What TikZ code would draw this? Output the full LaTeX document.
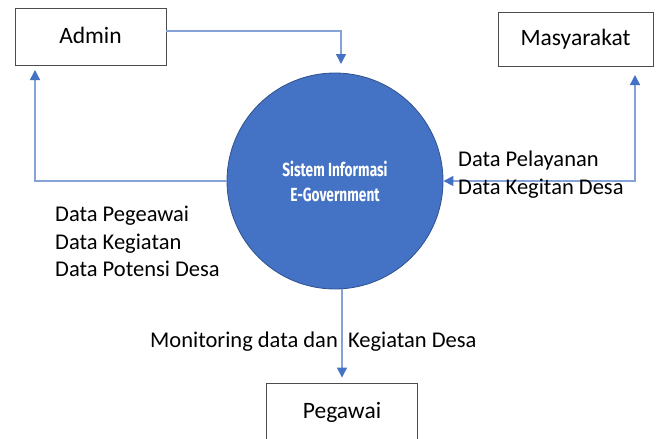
\documentclass[tikz,border=0pt]{standalone}
\usepackage{fontspec}
\setmainfont{Carlito}
\newfontfamily\procfont[FakeStretch=0.72]{Fira Sans}
\usetikzlibrary{arrows.meta}

\definecolor{procblue}{HTML}{4472C4}
\definecolor{procedge}{HTML}{2F528F}
\definecolor{flowline}{HTML}{86A3D8}

\begin{document}
\begin{tikzpicture}[x=1pt, y=-1pt, line join=miter,
    flowtip/.tip={Triangle[width=10pt, length=10pt, fill=procblue, color=procblue]},
    entity/.style={draw=black!70, line width=0.9pt, minimum width=151pt, minimum height=57pt,
      inner sep=0pt, font=\fontsize{23.5}{28}\selectfont},
    flow/.style={draw=flowline, line width=1.4pt, -flowtip},
    twoway/.style={draw=flowline, line width=1.4pt, flowtip-flowtip},
    flowlabel/.style={inner sep=0pt, anchor=west, align=left, font=\fontsize{22.5}{27.5}\selectfont}]

  % Page frame.
  \useasboundingbox (0,0) rectangle (659,439);

  % External entities and the process.
  \node[entity] (admin) at (90.5,36.5) {\raisebox{3pt}{Admin}};
  \node[entity, minimum width=155pt, minimum height=54pt] (masy) at (575.5,39) {\raisebox{1pt}{Masyarakat}};
  \node[entity, minimum height=58pt] (pegawai) at (342,412) {\raisebox{3pt}{Pegawai}};
  \node[circle, fill=procblue, draw=procedge, line width=0.8pt, minimum size=216pt,
    text=white, align=center, font=\procfont\bfseries\fontsize{19}{25}\selectfont] (sys) at (335,181)
    {Sistem Informasi\\E-Government};

  % Free ends of the flows.
  \coordinate (admin out) at ([yshift=5.5pt]admin.east);
  \coordinate (sys in) at (341,64);
  \coordinate (admin in) at (35,70);
  \coordinate (masy in) at (635,75);
  \coordinate (sys out) at ([xshift=7pt]sys.south);
  \coordinate (peg in) at ([yshift=5pt]pegawai.north);

  % Data flows.
  \draw[flow] (admin out) -| (sys in);
  \draw[flow] (sys.west) -| (admin in);
  \draw[twoway] (masy in) |- (sys.east);
  \draw[flow] (sys out) -- (peg in);

  % Flow labels.
  \node[flowlabel] (lbl masy) at (458,174.5) {Data Pelayanan\\Data Kegitan Desa};
  \node[flowlabel] (lbl admin) at (55,241.5) {Data Pegeawai\\Data Kegiatan\\Data Potensi Desa};
  \node[flowlabel] (lbl peg) at (150,342) {Monitoring data dan\ \ Kegiatan Desa};

\end{tikzpicture}
\end{document}
